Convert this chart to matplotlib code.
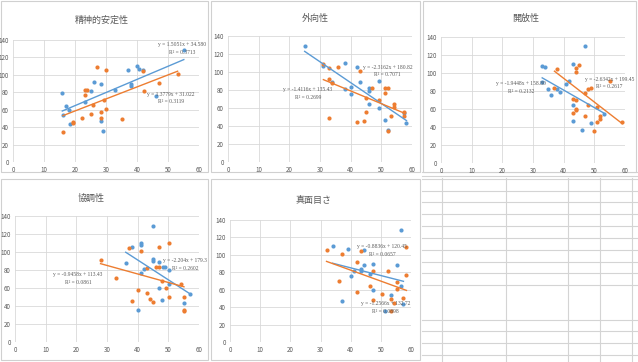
"Big Five scores vs. score, five scatter panels with linear trendlines"

import matplotlib.pyplot as plt
from matplotlib.patches import Rectangle
from matplotlib.lines import Line2D

plt.rcParams['font.family'] = ['Noto Sans CJK JP', 'DejaVu Sans']

BLUE = '#5B9BD5'
ORANGE = '#ED7D31'
GRID = '#D9D9D9'
TEXT = '#595959'

titles = ['精神的安定性', '外向性', '開放性', '協調性', '真面目さ']

# panel 1: 精神的安定性
p1_blue_x = [15.9, 17.2, 18.1, 18.3, 16.1, 23.2, 25, 26.1, 28.3, 28.3,
             29.1, 33, 37.2, 38.1, 38.1, 40, 40.8, 41.9, 46.1, 55.1]
p1_blue_y = [79, 64.5, 60, 44, 54, 69, 82, 92, 89, 46.5,
             36, 83, 106, 90, 87, 110, 107, 106, 76, 129]
p1_orange_x = [16.1, 19.4, 19.2, 22.2, 23.2, 23.3, 24, 25.9, 25.1, 27.2,
               28.3, 28.3, 29.2, 30, 30.1, 35.1, 42, 42.1, 47.1, 53.1]
p1_orange_y = [35, 45, 46, 51, 77, 83, 83, 65, 55, 109,
               57.6, 51, 71, 106, 61, 49, 105, 82, 91, 101]

# panel 2: 外向性
p2_blue_x = [25, 31.1, 38, 42, 43.1, 40.1, 40, 38.1, 33.8, 46.1,
             46.1, 46.1, 49.1, 49.1, 51.1, 52.1, 57.3, 58.2]
p2_blue_y = [128.6, 107, 110, 106, 89, 83, 76, 81, 88.7, 82,
             79.4, 64.6, 89.8, 59.8, 47, 36, 54, 43.6]
p2_orange_x = [31.1, 32.9, 36, 32.9, 33.8, 32.9, 43.2, 42, 44.2, 45, 45,
               47.1, 49.2, 51.1, 52.2, 51.1, 52.1, 53.1, 54.2, 54.2, 57.3, 57.3]
p2_orange_y = [108.6, 105, 105.6, 92, 88, 49, 101, 44.3, 45.8, 55.4, 71.3,
               82.4, 69, 82.4, 82.4, 76.5, 35, 50.6, 65, 60.6, 51, 55.4]

# panel 3: 開放性
p3_blue_x = [33, 34, 33, 35, 36, 37.9, 38.9, 40.9, 41.8, 42.9,
             42.9, 42.9, 47, 46, 49, 53]
p3_blue_y = [107.8, 107, 90.4, 82.2, 76, 82.2, 79, 87.8, 90.7, 110,
             64.8, 46.7, 129.6, 36.3, 44.4, 54]
p3_orange_x = [37.9, 37, 43.9, 44.9, 43.9, 42.9, 43.9, 43.9, 42.9, 43.9, 47,
               48, 49, 47.9, 47, 50, 51, 52, 52, 51, 55, 59.1]
p3_orange_y = [105, 83, 105.5, 108.5, 101.5, 71.5, 70.4, 60.4, 55.5, 59, 77.4,
               82.2, 83.3, 64.8, 51.8, 36, 45.5, 49.3, 51.8, 62.2, 91.5, 46]

# panel 4: 協調性
p4_blue_x = [36.1, 38, 41, 41, 41, 42.1, 40.1, 45, 45.1, 45.1,
             47.1, 47.1, 48, 49, 50.1, 50.1, 57, 55.1, 48.2]
p4_blue_y = [88, 105.8, 110.3, 107.7, 76.9, 80.6, 35.3, 129.2, 91.7, 90.2,
             88.7, 60.5, 47.2, 83.2, 79.5, 65, 53.8, 43.4, 83.5]
p4_orange_x = [27.9, 33, 37.1, 38, 41, 40.1, 43, 43, 44.1, 45.1, 46.1,
               47.1, 47.1, 48, 49.1, 50.1, 50.1, 54, 55.1, 55.1, 55.1]
p4_orange_y = [90.6, 70.9, 105, 45.7, 100.6, 57.6, 55, 81.7, 48.3, 44.9, 83.5,
               83.5, 105.8, 68.3, 60.5, 109.5, 50.5, 65, 50.5, 35.3, 34]

# panel 5: 真面目さ
p5_blue_x = [34, 39.1, 37.1, 40.2, 41.2, 43.3, 43.3, 44.3, 44.3, 46.3,
             47.3, 47.3, 51.4, 53.4, 55.4, 56.6, 56.6, 57.5]
p5_blue_y = [109.7, 107, 46.8, 75.6, 81.3, 81, 83.2, 88.2, 105.5, 78.6,
             89.8, 59.8, 35.3, 53.7, 88.2, 128.9, 64.8, 43.3]
p5_orange_x = [32, 36.1, 37.1, 42.2, 42.2, 43.3, 46.3, 47.3, 47.3, 50.4,
               52.4, 53.4, 53.4, 54.4, 55.4, 55.4, 57.5, 58.5, 58.5]
p5_orange_y = [105.5, 69.8, 100.5, 91.3, 57.5, 104.7, 64.4, 82, 48.3, 55.2,
               81.7, 49.9, 35.7, 44.5, 68.7, 60.6, 50.6, 108.9, 77.1]

# trendline coefficients (slope, intercept) as printed on the chart
blue_fits = [(1.5051, 34.580), (-2.3162, 180.82), (-1.9448, 158.80),
             (-2.204, 179.3), (-0.8836, 120.45)]
orange_fits = [(1.3779, 31.022), (-1.4116, 135.43), (-2.6342, 199.45),
               (-0.9458, 113.43), (-1.2566, 132.72)]
blue_labels = ['y = 1.5051x + 34.580\nR² = 0.3713',
               'y = -2.3162x + 180.82\nR² = 0.7071',
               'y = -1.9448x + 158.80\nR² = 0.2132',
               'y = -2.204x + 179.3\nR² = 0.2602',
               'y = -0.8836x + 120.45\nR² = 0.0657']
orange_labels = ['y = 1.3779x + 31.022\nR² = 0.3119',
                 'y = -1.4116x + 135.43\nR² = 0.2699',
                 'y = -2.6342x + 199.45\nR² = 0.2617',
                 'y = -0.9458x + 113.43\nR² = 0.0861',
                 'y = -1.2566x + 132.72\nR² = 0.0898']

panels = [
    (p1_blue_x, p1_blue_y, p1_orange_x, p1_orange_y),
    (p2_blue_x, p2_blue_y, p2_orange_x, p2_orange_y),
    (p3_blue_x, p3_blue_y, p3_orange_x, p3_orange_y),
    (p4_blue_x, p4_blue_y, p4_orange_x, p4_orange_y),
    (p5_blue_x, p5_blue_y, p5_orange_x, p5_orange_y),
]

W, H = 638, 362
# axes boxes in pixels: left, right, top, bottom
axes_px = [(13, 199, 40, 162), (228, 412, 36, 162), (441, 625, 37, 163),
           (15, 199, 216, 342), (230, 411, 220, 342)]
# chart frames in pixels: left, top, right, bottom
frames_px = [(1, 1, 208, 172), (211, 1, 420, 172), (423, 1, 636, 172),
             (1, 179, 208, 360), (211, 179, 420, 360)]
title_px = [(102, 20), (315, 18), (526, 18), (91, 198), (313, 200)]
# label centres (data coords) for blue and orange equation boxes
blue_lab = [(54.5, 130), (52, 101), (26, 84), (55.5, 86), (50.5, 105)]
orange_lab = [(51, 73.5), (26, 76), (55, 89), (20.5, 71), (51.5, 40)]

fig = plt.figure(figsize=(W / 100, H / 100), dpi=100)
fig.patch.set_facecolor('white')

# spreadsheet cell lines behind everything
for yy in [172, 176, 179, 191, 202, 214, 226, 238, 250, 262, 273, 285,
           320, 331, 343, 355]:
    fig.add_artist(Line2D([422 / W, 1], [1 - yy / H, 1 - yy / H],
                          color='#D4D4D4', lw=0.8, zorder=0))
for xx in [442, 506, 568, 600, 632]:
    fig.add_artist(Line2D([xx / W, xx / W], [0, 1 - 178 / H],
                          color='#D4D4D4', lw=0.8, zorder=0))

for fl, ft, fr, fb in frames_px:
    fig.add_artist(Rectangle((fl / W, 1 - fb / H), (fr - fl) / W,
                             (fb - ft) / H, facecolor='white',
                             edgecolor='#D0D0D0', lw=0.8, zorder=1))

for i, (bx, by, ox, oy) in enumerate(panels):
    l, r, t, b = axes_px[i]
    ax = fig.add_axes([l / W, 1 - b / H, (r - l) / W, (b - t) / H])
    ax.set_zorder(2)
    ax.set_facecolor('none')
    ax.set_xlim(0, 60)
    ax.set_ylim(0, 140)
    ax.set_xticks(range(0, 61, 10))
    ax.set_yticks(range(0, 141, 20))
    ax.grid(True, color=GRID, lw=0.6)
    ax.set_axisbelow(True)
    for s in ax.spines.values():
        s.set_visible(False)
    ax.tick_params(length=0, labelsize=4.5, labelcolor=TEXT, pad=3)

    ax.scatter(bx, by, s=9, color=BLUE, zorder=3, linewidths=0)
    ax.scatter(ox, oy, s=9, color=ORANGE, zorder=3, linewidths=0)

    for xs, fit, txt, lab, col in [
            (bx, blue_fits[i], blue_labels[i], blue_lab[i], BLUE),
            (ox, orange_fits[i], orange_labels[i], orange_lab[i], ORANGE)]:
        m, c = fit
        x0, x1 = min(xs), max(xs)
        ax.plot([x0, x1], [m * x0 + c, m * x1 + c], color=col, lw=1.0,
                zorder=4)
        ax.text(lab[0], lab[1], txt, fontsize=4.0, color=TEXT, ha='center',
                va='center', multialignment='center', linespacing=1.7,
                family='Liberation Serif', clip_on=False, zorder=5)

    tx, ty = title_px[i]
    fig.text(tx / W, 1 - ty / H, titles[i], fontsize=6.5, color=TEXT,
             ha='center', va='center', zorder=6)

fig.savefig('out.png', dpi=100, facecolor='white')
